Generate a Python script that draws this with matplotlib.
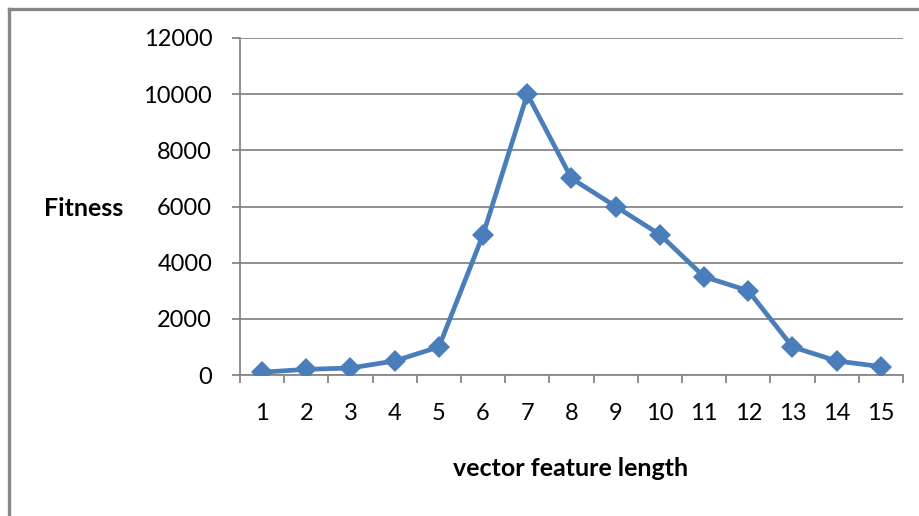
import matplotlib as mpl
mpl.use("Agg")
import matplotlib.pyplot as plt
from matplotlib.lines import Line2D
from matplotlib.ticker import FixedLocator, NullFormatter
import numpy as np

LENGTHS = list(range(1, 16))
FITNESS = [100, 200, 250, 500, 1000, 5000, 10000, 7000, 6000, 5000,
           3500, 3000, 1000, 500, 300]
Y_TICKS = [0, 2000, 4000, 6000, 8000, 10000, 12000]

W, H = 920, 516
GRAY = "#878787"
BLUE = "#4a7ebb"

plt.rcParams["font.family"] = ["Lato", "DejaVu Sans"]

fig = plt.figure(figsize=(W / 100, H / 100), dpi=100)
ax = fig.add_axes((240 / W, 1 - 375 / H, 663 / W, 337 / H))

ax.plot(LENGTHS, FITNESS, color=BLUE, lw=3.4, marker="D", ms=11,
        markeredgewidth=0, solid_joinstyle="round", zorder=3)

ax.set_xlim(0.5, 15.5)
ax.set_ylim(0, 12000)
ax.set_yticks(Y_TICKS)
ax.yaxis.grid(True, color=GRAY, lw=1.3)
ax.set_axisbelow(True)

# tick marks sit between categories, labels at the category centres
ax.xaxis.set_major_locator(FixedLocator(np.arange(0.5, 16, 1)))
ax.xaxis.set_major_formatter(NullFormatter())
ax.xaxis.set_minor_locator(FixedLocator(LENGTHS))
ax.set_xticklabels([str(v) for v in LENGTHS], minor=True)
ax.tick_params(axis="x", which="major", direction="out", length=6,
               width=1.3, color=GRAY)
ax.tick_params(axis="x", which="minor", length=0, pad=20, labelsize=17)
ax.tick_params(axis="y", direction="out", length=6, width=1.3, color=GRAY,
               pad=14, labelsize=17)

for side in ("top", "right"):
    ax.spines[side].set_visible(False)
for side in ("left", "bottom"):
    ax.spines[side].set_color(GRAY)
    ax.spines[side].set_linewidth(1.3)

fig.text(84 / W, 1 - 208 / H, "Fitness", ha="center", va="center",
         fontsize=18, fontweight="bold")
fig.text(571 / W, 1 - 469 / H, "vector feature length", ha="center",
         va="center", fontsize=18, fontweight="bold")

# chart frame, only its top and left edges fall inside the image
fig.add_artist(Line2D([8.5 / W, 1], [1 - 8.5 / H, 1 - 8.5 / H],
                      transform=fig.transFigure, color=GRAY, lw=2.4))
fig.add_artist(Line2D([8.5 / W, 8.5 / W], [0, 1 - 8.5 / H],
                      transform=fig.transFigure, color=GRAY, lw=2.4))

fig.savefig("out.png", dpi=100)
